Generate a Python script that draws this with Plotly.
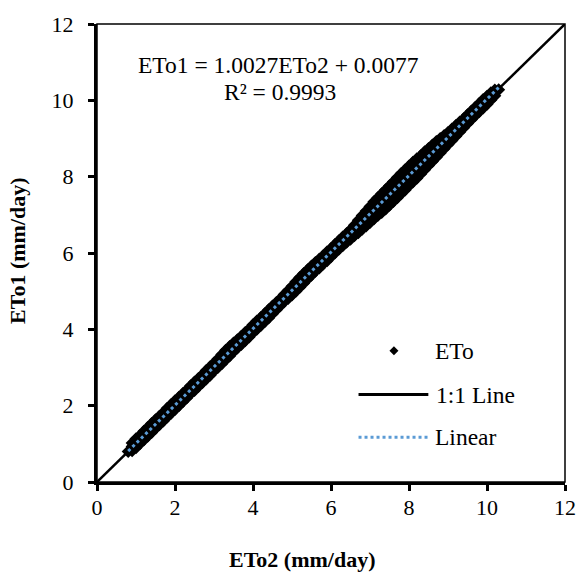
import plotly.graph_objects as go

# ---- data ----
# central run of ETo points
eto2 = [0.8, 0.9, 1.0, 1.1, 1.2, 1.3, 1.4, 1.5, 1.6, 1.7, 1.8, 1.9, 2.0, 2.1, 2.2, 2.3, 2.4, 2.5,
        2.6, 2.7, 2.8, 2.9, 3.0, 3.1, 3.2, 3.3, 3.4, 3.5, 3.6, 3.7, 3.8, 3.9, 4.0, 4.1, 4.2, 4.3,
        4.4, 4.5, 4.6, 4.7, 4.8, 4.9, 5.0, 5.1, 5.2, 5.3, 5.4, 5.5, 5.6, 5.7, 5.8, 5.9, 6.0, 6.1,
        6.2, 6.3, 6.4, 6.5, 6.6, 6.7, 6.8, 6.9, 7.0, 7.1, 7.2, 7.3, 7.4, 7.5, 7.6, 7.7, 7.8, 7.9,
        8.0, 8.1, 8.2, 8.3, 8.4, 8.5, 8.6, 8.7, 8.8, 8.9, 9.0, 9.1, 9.2, 9.3, 9.4, 9.5, 9.6, 9.7,
        9.8, 9.9, 10.0, 10.1, 10.2, 10.3]
eto1 = [0.80, 0.93, 1.02, 1.15, 1.22, 1.31, 1.43, 1.52, 1.60, 1.73, 1.83, 1.95, 2.03, 2.11, 2.22,
        2.31, 2.42, 2.51, 2.62, 2.71, 2.83, 2.92, 3.01, 3.12, 3.22, 3.35, 3.44, 3.53, 3.63, 3.72,
        3.82, 3.93, 4.02, 4.11, 4.21, 4.33, 4.42, 4.51, 4.62, 4.71, 4.83, 4.92, 5.03, 5.15, 5.24,
        5.35, 5.44, 5.55, 5.63, 5.73, 5.84, 5.93, 6.02, 6.13, 6.22, 6.31, 6.42, 6.50, 6.62, 6.74,
        6.83, 6.94, 7.03, 7.13, 7.24, 7.32, 7.45, 7.53, 7.64, 7.73, 7.85, 7.94, 8.03, 8.14, 8.24,
        8.33, 8.44, 8.53, 8.62, 8.73, 8.84, 8.93, 9.03, 9.12, 9.22, 9.33, 9.42, 9.52, 9.63, 9.72,
        9.82, 9.92, 10.02, 10.12, 10.22, 10.28]
# points on the upper edge of the cloud
eto2_hi = [0.9, 1.0, 1.1, 1.2, 1.3, 1.4, 1.5, 1.6, 1.7, 1.8, 1.9, 2.0, 2.1, 2.2, 2.3, 2.4, 2.5,
           2.6, 2.7, 2.8, 2.9, 3.0, 3.1, 3.2, 3.3, 3.4, 3.5, 3.6, 3.7, 3.8, 3.9, 4.0, 4.1, 4.2,
           4.3, 4.4, 4.5, 4.6, 4.7, 4.8, 4.9, 5.0, 5.1, 5.2, 5.3, 5.4, 5.5, 5.6, 5.7, 5.8, 5.9,
           6.0, 6.1, 6.2, 6.3, 6.4, 6.5, 6.6, 6.7, 6.8, 6.9, 7.0, 7.1, 7.2, 7.3, 7.4, 7.5, 7.6,
           7.7, 7.8, 7.9, 8.0, 8.1, 8.2, 8.3, 8.4, 8.5, 8.6, 8.7, 8.8, 8.9, 9.0, 9.1, 9.2, 9.3,
           9.4, 9.5, 9.6, 9.7, 9.8, 9.9, 10.0, 10.1, 10.2]
eto1_hi = [1.02, 1.13, 1.22, 1.33, 1.43, 1.53, 1.63, 1.72, 1.82, 1.93, 2.03, 2.13, 2.22, 2.32,
           2.41, 2.52, 2.62, 2.71, 2.81, 2.92, 3.02, 3.12, 3.22, 3.34, 3.45, 3.55, 3.64, 3.73,
           3.82, 3.92, 4.01, 4.12, 4.22, 4.31, 4.41, 4.51, 4.61, 4.70, 4.80, 4.91, 5.02, 5.13,
           5.25, 5.36, 5.46, 5.56, 5.66, 5.75, 5.84, 5.93, 6.03, 6.12, 6.22, 6.32, 6.42, 6.51,
           6.61, 6.73, 6.86, 6.98, 7.10, 7.22, 7.34, 7.45, 7.55, 7.66, 7.76, 7.87, 7.98, 8.08,
           8.18, 8.28, 8.38, 8.47, 8.55, 8.65, 8.74, 8.83, 8.92, 9.00, 9.08, 9.16, 9.25, 9.34,
           9.43, 9.52, 9.62, 9.72, 9.82, 9.92, 10.02, 10.11, 10.20, 10.27]
# points on the lower edge of the cloud
eto2_lo = [0.9, 1.0, 1.1, 1.2, 1.3, 1.4, 1.5, 1.6, 1.7, 1.8, 1.9, 2.0, 2.1, 2.2, 2.3, 2.4, 2.5,
           2.6, 2.7, 2.8, 2.9, 3.0, 3.1, 3.2, 3.3, 3.4, 3.5, 3.6, 3.7, 3.8, 3.9, 4.0, 4.1, 4.2,
           4.3, 4.4, 4.5, 4.6, 4.7, 4.8, 4.9, 5.0, 5.1, 5.2, 5.3, 5.4, 5.5, 5.6, 5.7, 5.8, 5.9,
           6.0, 6.1, 6.2, 6.3, 6.4, 6.5, 6.6, 6.7, 6.8, 6.9, 7.0, 7.1, 7.2, 7.3, 7.4, 7.5, 7.6,
           7.7, 7.8, 7.9, 8.0, 8.1, 8.2, 8.3, 8.4, 8.5, 8.6, 8.7, 8.8, 8.9, 9.0, 9.1, 9.2, 9.3,
           9.4, 9.5, 9.6, 9.7, 9.8, 9.9, 10.0, 10.1, 10.2]
eto1_lo = [0.82, 0.90, 1.00, 1.10, 1.20, 1.30, 1.40, 1.50, 1.60, 1.70, 1.80, 1.90, 2.00, 2.10,
           2.20, 2.31, 2.40, 2.50, 2.60, 2.70, 2.80, 2.91, 3.00, 3.10, 3.20, 3.30, 3.41, 3.51,
           3.60, 3.70, 3.80, 3.91, 4.00, 4.10, 4.20, 4.30, 4.41, 4.51, 4.62, 4.72, 4.81, 4.90,
           5.00, 5.10, 5.21, 5.32, 5.42, 5.52, 5.61, 5.71, 5.80, 5.90, 6.00, 6.10, 6.19, 6.28,
           6.36, 6.45, 6.53, 6.62, 6.71, 6.80, 6.89, 6.98, 7.06, 7.15, 7.25, 7.35, 7.45, 7.55,
           7.65, 7.76, 7.86, 7.96, 8.07, 8.18, 8.29, 8.40, 8.51, 8.62, 8.73, 8.84, 8.95, 9.06,
           9.17, 9.28, 9.39, 9.50, 9.60, 9.70, 9.80, 9.90, 10.01, 10.12]

x_all = eto2 + eto2_hi + eto2_lo
y_all = eto1 + eto1_hi + eto1_lo

one_to_one = [0, 12]
slope, intercept = 1.0027, 0.0077
trend_x = [min(x_all), max(x_all)]
trend_y = [slope * v + intercept for v in trend_x]
ticks = [0, 2, 4, 6, 8, 10, 12]

FONT = "Times New Roman, Liberation Serif, DejaVu Serif, serif"
BLUE = "#5B9BD5"

fig = go.Figure()
fig.add_trace(go.Scatter(x=one_to_one, y=one_to_one, mode="lines",
                         line=dict(color="black", width=2.5), showlegend=False))
fig.add_trace(go.Scatter(x=x_all, y=y_all, mode="markers",
                         marker=dict(symbol="diamond", size=10, color="black"), showlegend=False))
fig.add_trace(go.Scatter(x=trend_x, y=trend_y, mode="lines",
                         line=dict(color=BLUE, width=3, dash="3px,3px"), showlegend=False))

axis_common = dict(range=[0, 12], tickvals=ticks, ticktext=[str(t) for t in ticks],
                   showline=True, linecolor="black", linewidth=3, ticks="outside",
                   ticklen=6, tickwidth=3, tickcolor="black", showgrid=False, zeroline=False,
                   tickfont=dict(family=FONT, size=22, color="black"))
fig.update_xaxes(**axis_common, ticklabelstandoff=-2)
fig.update_yaxes(**axis_common, ticklabelstandoff=10)

def px_x(p):
    return (p - 97) / 476.0

def px_y(p):
    return (482 - p) / 461.0

shapes = [
    dict(type="rect", xref="paper", yref="paper", x0=0, x1=1, y0=0, y1=1,
         line=dict(color="black", width=1.5)),
    # legend samples
    dict(type="path", xref="paper", yref="paper", xsizemode="pixel", ysizemode="pixel",
         xanchor=px_x(399), yanchor=px_y(350), path="M -4.5 0 L 0 4.5 L 4.5 0 L 0 -4.5 Z",
         fillcolor="black", line=dict(color="black", width=0)),
    dict(type="line", xref="paper", yref="paper", x0=px_x(363), x1=px_x(434),
         y0=px_y(394), y1=px_y(394), line=dict(color="black", width=3)),
    dict(type="line", xref="paper", yref="paper", x0=px_x(363), x1=px_x(434),
         y0=px_y(437), y1=px_y(437), line=dict(color=BLUE, width=3, dash="3px,3px")),
]

tf = dict(family=FONT, size=23.5, color="black")
annotations = [
    dict(text="ETo1 = 1.0027ETo2 + 0.0077", xref="paper", yref="paper", x=px_x(282), y=px_y(62),
         showarrow=False, font=tf, xanchor="center", yanchor="middle"),
    dict(text="R² = 0.9993", xref="paper", yref="paper", x=px_x(283), y=px_y(89),
         showarrow=False, font=tf, xanchor="center", yanchor="middle"),
    dict(text="ETo", xref="paper", yref="paper", x=px_x(439), y=px_y(350),
         showarrow=False, font=tf, xanchor="left", yanchor="middle"),
    dict(text="1:1 Line", xref="paper", yref="paper", x=px_x(440), y=px_y(394),
         showarrow=False, font=tf, xanchor="left", yanchor="middle"),
    dict(text="Linear", xref="paper", yref="paper", x=px_x(439), y=px_y(437),
         showarrow=False, font=tf, xanchor="left", yanchor="middle"),
    dict(text="<b>ETo2 (mm/day)</b>", xref="paper", yref="paper", x=px_x(305), y=px_y(560),
         showarrow=False, font=dict(family=FONT, size=22, color="black"),
         xanchor="center", yanchor="middle"),
    dict(text="<b>ETo1 (mm/day)</b>", xref="paper", yref="paper", x=px_x(16), y=px_y(249),
         showarrow=False, font=dict(family=FONT, size=22, color="black"), textangle=-90,
         xanchor="center", yanchor="middle"),
]

fig.update_layout(width=588, height=573, margin=dict(l=97, r=15, t=21, b=91),
                  plot_bgcolor="white", paper_bgcolor="white", shapes=shapes,
                  annotations=annotations, showlegend=False)

fig.write_html("out.html")
